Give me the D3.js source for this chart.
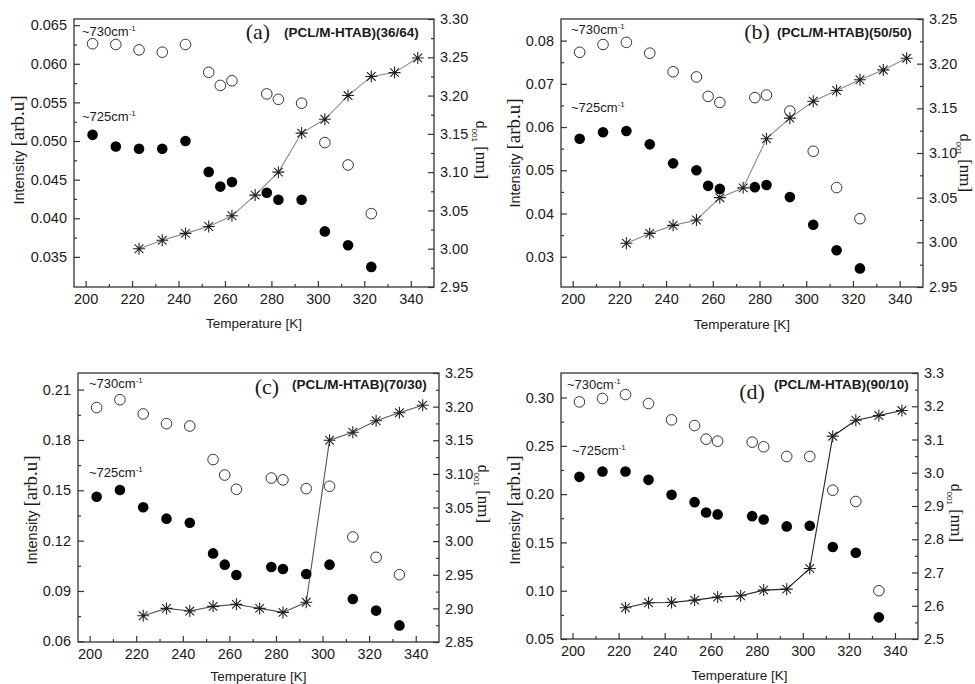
<!DOCTYPE html>
<html>
<head>
<meta charset="utf-8">
<script src="https://cdn.jsdelivr.net/npm/d3@7"></script>
<style>
    body { margin: 0; background: #fff; }
    svg { display: block; }
    text { font-family: Arial, "Liberation Sans", sans-serif; fill: #1a1a1a; }
    .serif { font-family: "Times New Roman", "Liberation Serif", serif; }
</style>
</head>
<body>
<svg id="chart" width="975" height="684"></svg>
<script>
// temperatures [K]
const tempsIR = [203, 213, 223, 233, 243, 253, 258, 263, 278, 283, 293, 303, 313, 323];
const tempsIRLong = [203, 213, 223, 233, 243, 253, 258, 263, 278, 283, 293, 303, 313, 323, 333];
const tempsD001 = [223, 233, 243, 253, 263, 273, 283, 293, 303, 313, 323, 333, 343];

// (a) 36/64
const int730A = [0.0626, 0.0625, 0.0618, 0.0615, 0.0625, 0.0589, 0.0572, 0.0578, 0.0561, 0.0554, 0.0549, 0.0498, 0.0469, 0.0406];
const int725A = [0.0508, 0.0493, 0.0490, 0.0490, 0.0500, 0.0460, 0.0441, 0.0447, 0.0433, 0.0424, 0.0424, 0.0383, 0.0365, 0.0337];
const d001A = [3.000, 3.011, 3.020, 3.029, 3.043, 3.070, 3.100, 3.151, 3.169, 3.200, 3.225, 3.230, 3.249];

// (b) 50/50
const int730B = [0.0773, 0.0791, 0.0796, 0.0771, 0.0728, 0.0716, 0.0671, 0.0657, 0.0668, 0.0674, 0.0637, 0.0544, 0.0460, 0.0388];
const int725B = [0.0573, 0.0588, 0.0591, 0.0560, 0.0516, 0.0500, 0.0464, 0.0457, 0.0461, 0.0466, 0.0438, 0.0374, 0.0315, 0.0273];
const d001B = [2.999, 3.010, 3.019, 3.025, 3.050, 3.061, 3.116, 3.139, 3.158, 3.170, 3.182, 3.193, 3.206];

// (c) 70/30
const int730C = [0.1993, 0.2040, 0.1955, 0.1897, 0.1883, 0.1683, 0.1591, 0.1506, 0.1573, 0.1562, 0.1510, 0.1524, 0.1222, 0.1101, 0.0997];
const int725C = [0.1462, 0.1502, 0.1399, 0.1331, 0.1307, 0.1124, 0.1057, 0.0995, 0.1043, 0.1031, 0.1001, 0.1057, 0.0852, 0.0783, 0.0695];
const d001C = [2.889, 2.900, 2.896, 2.903, 2.906, 2.900, 2.894, 2.909, 3.150, 3.162, 3.179, 3.191, 3.202];

// (d) 90/10
const int730D = [0.2955, 0.2990, 0.3031, 0.2938, 0.2769, 0.2710, 0.2569, 0.2548, 0.2538, 0.2490, 0.2390, 0.2390, 0.2041, 0.1924, 0.1000];
const int725D = [0.2179, 0.2234, 0.2234, 0.2148, 0.1993, 0.1917, 0.1810, 0.1790, 0.1772, 0.1738, 0.1666, 0.1672, 0.1452, 0.1393, 0.0724];
const d001D = [2.594, 2.609, 2.610, 2.617, 2.626, 2.630, 2.647, 2.650, 2.712, 3.110, 3.158, 3.172, 3.187];

// tick labels
const xTicks = [200, 220, 240, 260, 280, 300, 320, 340];
const leftTicksA = [0.035, 0.040, 0.045, 0.050, 0.055, 0.060, 0.065];
const leftTicksB = [0.03, 0.04, 0.05, 0.06, 0.07, 0.08];
const leftTicksC = [0.06, 0.09, 0.12, 0.15, 0.18, 0.21];
const leftTicksD = [0.05, 0.10, 0.15, 0.20, 0.25, 0.30];
const rightTicksA = [2.95, 3.00, 3.05, 3.10, 3.15, 3.20, 3.25, 3.30];
const rightTicksB = [2.95, 3.00, 3.05, 3.10, 3.15, 3.20, 3.25];
const rightTicksC = [2.85, 2.90, 2.95, 3.00, 3.05, 3.10, 3.15, 3.20, 3.25];
const rightTicksD = [2.5, 2.6, 2.7, 2.8, 2.9, 3.0, 3.1, 3.2, 3.3];

const svg = d3.select('#chart');

function midpoints(ticks) {
    let m = [];
    for (let i = 0; i < ticks.length - 1; i++) m.push((ticks[i] + ticks[i + 1]) / 2);
    return m;
}

function starPath(r) {
    let d = r * 0.72;
    return 'M0,' + (-r) + 'V' + r +
        'M' + (-r) + ',0H' + r +
        'M' + (-d) + ',' + (-d) + 'L' + d + ',' + d +
        'M' + (-d) + ',' + d + 'L' + d + ',' + (-d);
}

function panel(p) {
    let g = svg.append('g');

    let x = d3.scaleLinear().domain([195, 350]).range([p.left, p.right]);
    let yL = d3.scaleLinear().domain(p.yDomain).range([p.bottom, p.top]);
    let yR = d3.scaleLinear().domain(p.rDomain).range([p.bottom, p.top]);

    // minor ticks
    g.append('g')
        .attr('transform', 'translate(0,' + p.bottom + ')')
        .call(d3.axisBottom(x).tickValues(midpoints(xTicks)).tickSize(-3).tickFormat(''))
        .call(s => s.select('.domain').remove());
    g.append('g')
        .attr('transform', 'translate(' + p.left + ',0)')
        .call(d3.axisLeft(yL).tickValues(midpoints(p.leftTicks)).tickSize(-3).tickFormat(''))
        .call(s => s.select('.domain').remove());
    g.append('g')
        .attr('transform', 'translate(' + p.right + ',0)')
        .call(d3.axisRight(yR).tickValues(midpoints(p.rightTicks)).tickSize(-3).tickFormat(''))
        .call(s => s.select('.domain').remove());

    // major ticks + labels
    g.append('g')
        .attr('transform', 'translate(0,' + p.bottom + ')')
        .call(d3.axisBottom(x).tickValues(xTicks).tickSize(-6).tickPadding(7).tickFormat(d3.format('d')))
        .call(s => s.select('.domain').remove());
    g.append('g')
        .attr('transform', 'translate(' + p.left + ',0)')
        .call(d3.axisLeft(yL).tickValues(p.leftTicks).tickSize(-6).tickPadding(7).tickFormat(d3.format(p.leftFmt)))
        .call(s => s.select('.domain').remove());
    g.append('g')
        .attr('transform', 'translate(' + p.right + ',0)')
        .call(d3.axisRight(yR).tickValues(p.rightTicks).tickSize(-6).tickPadding(6).tickFormat(d3.format(p.rightFmt)))
        .call(s => s.select('.domain').remove());

    g.selectAll('.tick line').attr('stroke', '#333').attr('stroke-width', 1.2);
    g.selectAll('.tick text')
        .attr('font-family', 'Arial, "Liberation Sans", sans-serif')
        .attr('font-size', 14.5)
        .attr('fill', '#1a1a1a');

    // frame
    g.append('rect')
        .attr('x', p.left)
        .attr('y', p.top)
        .attr('width', p.right - p.left)
        .attr('height', p.bottom - p.top)
        .attr('fill', 'none')
        .attr('stroke', '#333')
        .attr('stroke-width', 1.3);

    // d001 line + stars
    let line = d3.line()
        .x((d, i) => x(tempsD001[i]))
        .y(d => yR(d));
    g.append('path')
        .datum(p.d001)
        .attr('d', line)
        .attr('fill', 'none')
        .attr('stroke', p.lineColor)
        .attr('stroke-width', 1.1);
    g.append('g')
        .selectAll('path')
        .data(p.d001)
        .enter()
        .append('path')
        .attr('transform', (d, i) => 'translate(' + x(tempsD001[i]) + ',' + yR(d) + ')')
        .attr('d', starPath(6))
        .attr('stroke', '#222')
        .attr('stroke-width', 1.1)
        .attr('fill', 'none');

    // ~730 open circles
    g.append('g')
        .selectAll('circle')
        .data(p.int730)
        .enter()
        .append('circle')
        .attr('cx', (d, i) => x(p.temps[i]))
        .attr('cy', d => yL(d))
        .attr('r', 5.3)
        .attr('fill', 'none')
        .attr('stroke', '#333')
        .attr('stroke-width', 1);

    // ~725 filled circles
    g.append('g')
        .selectAll('circle')
        .data(p.int725)
        .enter()
        .append('circle')
        .attr('cx', (d, i) => x(p.temps[i]))
        .attr('cy', d => yL(d))
        .attr('r', 5.3)
        .attr('fill', '#000');

    // band annotations
    [['~730cm', p.ann730], ['~725cm', p.ann725]].forEach(a => {
        let t = g.append('text')
            .attr('x', a[1][0])
            .attr('y', a[1][1])
            .attr('font-size', 13);
        t.append('tspan').text(a[0]);
        t.append('tspan').attr('dy', -5).attr('font-size', 8).text('-1');
    });

    // panel letter and sample name
    g.append('text')
        .attr('class', 'serif')
        .attr('x', p.letterPos[0])
        .attr('y', p.letterPos[1])
        .attr('text-anchor', 'middle')
        .attr('font-size', 22)
        .text(p.letter);
    g.append('text')
        .attr('x', p.namePos[0])
        .attr('y', p.namePos[1])
        .attr('font-size', 13.5)
        .attr('font-weight', 'bold')
        .text(p.name);

    // axis titles
    g.append('text')
        .attr('x', (p.left + p.right) / 2)
        .attr('y', p.xTitleY)
        .attr('text-anchor', 'middle')
        .attr('font-size', 13.5)
        .text('Temperature [K]');

    let yt = g.append('text')
        .attr('transform', 'translate(' + p.yTitle[0] + ',' + p.yTitle[1] + ') rotate(-90)')
        .attr('text-anchor', 'middle')
        .attr('dy', '0.35em');
    yt.append('tspan').attr('font-size', 14.5).text('Intensity ');
    yt.append('tspan').attr('class', 'serif').attr('font-size', 19).text('[arb.u]');

    let rt = g.append('text')
        .attr('transform', 'translate(' + p.rTitle[0] + ',' + p.rTitle[1] + ') rotate(90)')
        .attr('text-anchor', 'middle')
        .attr('dy', '0.35em');
    rt.append('tspan').attr('font-size', 14).text('d');
    rt.append('tspan').attr('font-size', 8).attr('dy', 4).text('001');
    rt.append('tspan').attr('class', 'serif').attr('font-size', 17).attr('dy', -4).text(' [nm]');
}

panel({
    left: 74, right: 434, top: 19, bottom: 287,
    yDomain: [0.0311, 0.0658], rDomain: [2.95, 3.30],
    leftTicks: leftTicksA, leftFmt: '.3f', rightTicks: rightTicksA, rightFmt: '.2f',
    temps: tempsIR, int730: int730A, int725: int725A, d001: d001A,
    lineColor: '#8a8a8a',
    ann730: [82, 36], ann725: [82, 121],
    letter: '(a)', letterPos: [258, 39], name: '(PCL/M-HTAB)(36/64)', namePos: [284, 37],
    xTitleY: 328, yTitle: [18, 150], rTitle: [482, 150]
});

panel({
    left: 561, right: 923, top: 19, bottom: 287,
    yDomain: [0.023, 0.085], rDomain: [2.95, 3.25],
    leftTicks: leftTicksB, leftFmt: '.2f', rightTicks: rightTicksB, rightFmt: '.2f',
    temps: tempsIR, int730: int730B, int725: int725B, d001: d001B,
    lineColor: '#8a8a8a',
    ann730: [571, 34], ann725: [571, 112],
    letter: '(b)', letterPos: [757, 39], name: '(PCL/M-HTAB)(50/50)', namePos: [777, 37],
    xTitleY: 329, yTitle: [514, 153], rTitle: [966, 163]
});

panel({
    left: 78, right: 439, top: 373, bottom: 642,
    yDomain: [0.0596, 0.2199], rDomain: [2.85, 3.25],
    leftTicks: leftTicksC, leftFmt: '.2f', rightTicks: rightTicksC, rightFmt: '.2f',
    temps: tempsIRLong, int730: int730C, int725: int725C, d001: d001C,
    lineColor: '#555',
    ann730: [89, 388], ann725: [89, 477],
    letter: '(c)', letterPos: [267, 394], name: '(PCL/M-HTAB)(70/30)', namePos: [292, 389],
    xTitleY: 681, yTitle: [31, 510], rTitle: [484, 494]
});

panel({
    left: 561, right: 918, top: 373, bottom: 639,
    yDomain: [0.05, 0.3254], rDomain: [2.5, 3.3],
    leftTicks: leftTicksD, leftFmt: '.2f', rightTicks: rightTicksD, rightFmt: '.1f',
    temps: tempsIRLong, int730: int730D, int725: int725D, d001: d001D,
    lineColor: '#222',
    ann730: [567, 389], ann725: [572, 455],
    letter: '(d)', letterPos: [752, 399], name: '(PCL/M-HTAB)(90/10)', namePos: [774, 389],
    xTitleY: 680, yTitle: [514, 510], rTitle: [957, 513]
});
</script>
</body>
</html>
